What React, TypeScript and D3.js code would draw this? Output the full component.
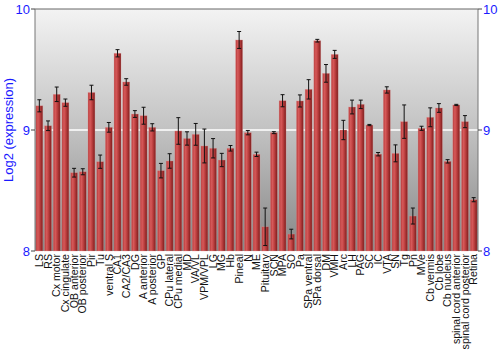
import React from "react";
import * as d3 from "d3";

const categories = [
  "LS", "RS", "Cx motor", "Cx cingulate", "OB anterior", "OB posterior", "Pir", "Tu",
  "ventral S", "CA1", "CA2/CA3", "DG", "A anterior", "A posterior", "GP", "CPu lateral",
  "CPu medial", "MD", "VA/VL", "VPM/VPL", "LG", "MG", "Hb", "Pineal", "N", "ME",
  "Pituitary", "SCN", "MPA", "SO", "Pa", "SPa ventral", "SPa dorsal", "DM", "VMH", "Arc",
  "LH", "PAG", "SC", "IC", "VTA", "SN", "Tg", "Pn", "MVe", "Cb vermis", "Cb lobe",
  "Cb nucleus", "spinal cord anterior", "spinal cord posterior", "Retina",
];

const values = [
  9.2, 9.035, 9.295, 9.226, 8.647, 8.655, 9.31, 8.738,
  9.022, 9.634, 9.397, 9.132, 9.118, 9.022, 8.664, 8.744,
  8.992, 8.93, 8.964, 8.868, 8.849, 8.752, 8.849, 9.744, 8.978, 8.799,
  8.2, 8.978, 9.242, 8.14, 9.24, 9.336, 9.738, 9.468, 9.625, 9.0,
  9.19, 9.212, 9.041, 8.8, 9.331, 8.807, 9.069, 8.289, 9.014, 9.105, 9.182,
  8.741, 9.207, 9.069, 8.424,
];

const errors = [
  0.05, 0.04, 0.06, 0.03, 0.036, 0.025, 0.06, 0.055,
  0.04, 0.03, 0.027, 0.028, 0.07, 0.03, 0.06, 0.06,
  0.11, 0.055, 0.09, 0.14, 0.08, 0.055, 0.023, 0.07, 0.018, 0.018,
  0.155, 0.008, 0.05, 0.04, 0.05, 0.08, 0.011, 0.073, 0.033, 0.08,
  0.057, 0.035, 0.005, 0.014, 0.026, 0.07, 0.138, 0.066, 0.017, 0.078, 0.036,
  0.014, 0.005, 0.05, 0.017,
];

const yTicks = [8, 9, 10];

const W = 500;
const H = 350;
const left = 35;
const right = 478;
const top = 9;
const bottom = 251;

export default function App() {
  const x = d3.scaleBand<string>().domain(categories).range([left, right]).paddingInner(0.2).paddingOuter(0.1);
  const y = d3.scaleLinear().domain([8, 10]).range([bottom, top]);
  const bw = x.bandwidth();
  const blue = "#1a1aff";
  return (
    <svg
      width={W}
      height={H}
      style={{ position: "fixed", left: 0, top: 0, background: "#fff" }}
      fontFamily="'Liberation Sans', Arial, sans-serif"
    >
      <defs>
        <linearGradient id="bg" x1="0" y1="0" x2="0" y2="1">
          <stop offset="0" stopColor="#f3f3f3" />
          <stop offset="0.5" stopColor="#c2c2c2" />
          <stop offset="1" stopColor="#878787" />
        </linearGradient>
        <linearGradient id="bar" x1="0" y1="0" x2="1" y2="0">
          <stop offset="0" stopColor="#b83a3a" />
          <stop offset="0.3" stopColor="#d65a5a" />
          <stop offset="0.55" stopColor="#c04242" />
          <stop offset="1" stopColor="#7e1c1c" />
        </linearGradient>
      </defs>
      <rect x={left} y={top} width={right - left} height={bottom - top} fill="url(#bg)" />
      <line x1={left} x2={right} y1={y(9)} y2={y(9)} stroke="#fff" strokeWidth={1.5} />
      {categories.map((c, i) => {
        const bx = x(c)!;
        const v = values[i];
        const e = errors[i];
        const cx = bx + bw / 2;
        return (
          <g key={c}>
            <rect
              x={bx}
              y={y(v)}
              width={bw}
              height={bottom - y(v)}
              fill="url(#bar)"
              stroke="#e39a9a"
              strokeOpacity={0.5}
              strokeWidth={0.6}
            />
            <line x1={cx} x2={cx} y1={y(v + e)} y2={y(v - e)} stroke="#111" strokeWidth={1} />
            <line x1={cx - 2} x2={cx + 2} y1={y(v + e)} y2={y(v + e)} stroke="#111" strokeWidth={1} />
            <line x1={cx - 2} x2={cx + 2} y1={y(v - e)} y2={y(v - e)} stroke="#111" strokeWidth={1} />
          </g>
        );
      })}
      <line x1={left} x2={right} y1={top} y2={top} stroke="#666" strokeWidth={1} />
      <line x1={left} x2={left} y1={top} y2={bottom} stroke="#777" strokeWidth={1} />
      <line x1={right} x2={right} y1={top} y2={bottom} stroke="#777" strokeWidth={1} />
      {yTicks.map((t) => (
        <g key={t}>
          <line x1={left - 4} x2={left} y1={y(t)} y2={y(t)} stroke="#444" />
          <line x1={right} x2={right + 4} y1={y(t)} y2={y(t)} stroke="#444" />
          <text x={left - 5} y={y(t)} dy="0.35em" textAnchor="end" fontSize={13} fill={blue}>
            {t}
          </text>
          <text x={right + 5} y={y(t)} dy="0.35em" textAnchor="start" fontSize={13} fill={blue}>
            {t}
          </text>
        </g>
      ))}
      <text
        transform={`translate(13,${(top + bottom) / 2}) rotate(-90)`}
        textAnchor="middle"
        fontSize={13}
        fill={blue}
      >
        Log2 (expression)
      </text>
      {categories.map((c) => (
        <text
          key={c}
          transform={`translate(${x(c)! + bw / 2},${bottom + 3}) rotate(-90)`}
          textAnchor="end"
          dy="0.35em"
          fontSize={10.6}
          fill="#111"
        >
          {c}
        </text>
      ))}
    </svg>
  );
}
